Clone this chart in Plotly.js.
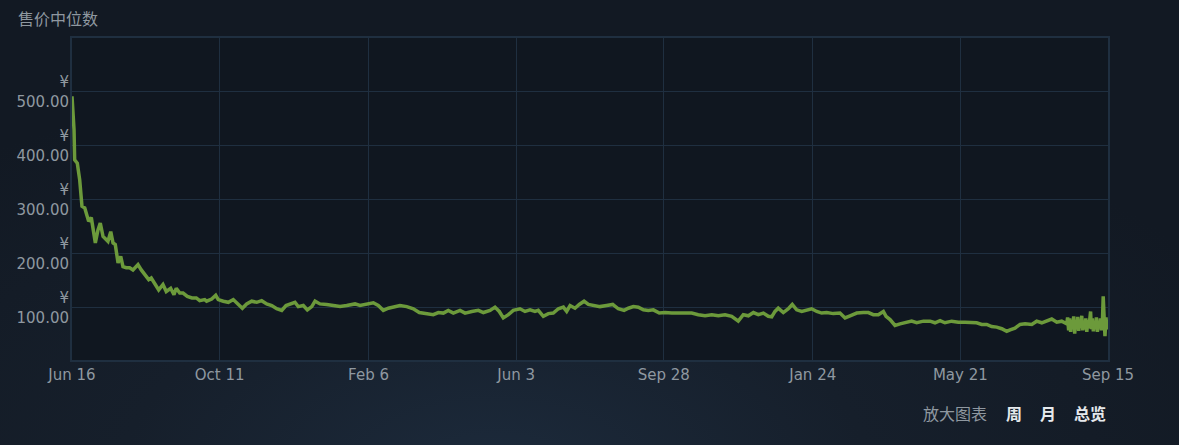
<!DOCTYPE html>
<html>
<head>
<meta charset="utf-8">
<script src="https://cdn.plot.ly/plotly-3.0.1.min.js"></script>
<style>
html,body{margin:0;padding:0;width:1179px;height:445px;overflow:hidden;
background:radial-gradient(ellipse 70% 90% at 42% 105%, #1c2a3b 0%, #161f2b 45%, #121923 100%);}
#chart{width:1179px;height:445px;}
</style>
</head>
<body>
<div id="chart"></div>
<script>
// days since Jun 16
const days = [0,1.6,2.1,4.2,6.1,7.9,10.1,11.3,13.2,15.3,16.6,18.5,20.6,22.4,24.6,26.4,28.5,30.7,32.5,34.3,36.5,38.6,40.4,43,45.7,48.3,52.3,54.9,58.1,60.8,62.8,66,68.7,72.1,74.7,78.2,80.8,82.6,85.4,88,91.4,95.1,98.5,101.2,105.2,
106.7,110.7,113.9,115.9,119.9,123.9,127.8,131.8,135,138.4,142.4,146.4,150.3,154.3,158.3,162.2,166.2,169.6,172.8,176.7,179.3,183.3,186.5,190,192.6,196.5,201.8,207.1,212.4,217.7,224.3,228.2,233,238.8,242.7,246.7,250.7,254.6,259.9,265.3,270.5,275.2,
282.4,286.3,290.3,294.3,298.2,302.2,307.5,311.5,316.8,322,326,331.3,335.2,338.6,341.8,345.8,349.7,355,359,363,366.9,369.5,373.5,377.5,381.4,385.4,389.4,392,394.7,398.6,402,405.8,409.2,413.1,418.4,423.7,428.5,432.9,
437.5,440.9,444.9,448.8,452.8,456.7,460.7,465.4,469.9,475.3,480.5,485.8,491.1,496.3,501.7,507,512.2,517.5,522.8,528,532,536,540,543.9,547.9,551.8,554.5,557.1,559.7,563.7,567.7,570.8,574.3,578.3,582.2,586.2,590.2,594.1,598.1,603.3,608.6,612.6,616.6,621.9,
627.1,631.1,635,639,643,645.1,648.3,652.2,656.2,661.5,665.4,669.4,674.7,680,683.9,687.9,691.8,697.1,702.4,707.7,713,716.9,720.9,724.9,728.8,732.8,736.8,740.7,743.4,747.3,751.3,755.3,760.6,764.5,768.5,772.5,776.4,780.4,784.3,788.3,
789,789.8,790.6,791.4,792.2,793,793.8,794.6,795.4,796.2,797,797.8,798.6,799.4,800.2,801,801.8,802.6,803.4,804.2,805,805.8,806.6,807.2,807.8,808.6,809.4,810.2,811,811.8,812.6,813.4,814.2,815,815.8,816.6,817.2,817.8,818.6,819.4,820.2,821];
const prices = [492,430,374,368,337,288,285,276,260,267,244,220,244,257,232,228,223,241,220,217,183,195,176,174,174,170,180,170,161,152,155,143,133,143,130,136,124,136,127,127,121,118,118,113,115,
112,116,123,115,112,110,115,107,99,107,112,110,113,107,104,98,95,104,107,110,102,104,96,102,112,107,106,104,102,104,107,104,107,109,104,95,99,101,104,102,98,91,
89,87,91,90,95,90,95,90,93,95,91,95,101,93,81,87,95,98,93,96,93,95,84,89,90,98,101,93,104,99,106,112,106,104,102,104,106,98,
95,99,102,101,96,95,96,90,91,90,90,89,90,87,85,87,85,87,84,75,87,85,91,87,90,84,83,93,99,91,98,106,96,93,95,98,93,90,91,89,90,81,85,90,
91,91,87,87,93,84,78,67,70,72,75,72,75,75,72,76,72,75,73,73,72,72,69,69,65,64,61,56,59,62,69,70,69,75,72,75,79,73,75,70,
82,58,80,55,77,62,84,52,76,60,83,57,78,63,85,58,74,60,80,55,77,62,78,93,60,80,56,75,60,82,55,74,62,80,58,76,121,60,47,82,60,72];

const tickDays = [0,117,235,352,469,587,704,821];
const tickLabels = ["Jun 16","Oct 11","Feb 6","Jun 3","Sep 28","Jan 24","May 21","Sep 15"];
const yTicks = [100,200,300,400,500];
const yLabels = ["¥<br>100.00","¥<br>200.00","¥<br>300.00","¥<br>400.00","¥<br>500.00"];

const FONT = "DejaVu Sans, Noto Sans CJK SC, sans-serif";
const CJK = "Noto Sans CJK SC, sans-serif";
const grid = "#1f2f40";

Plotly.newPlot("chart", [{
  x: days, y: prices, type: "scatter", mode: "lines",
  line: {color: "#6c9a3b", width: 3.5, shape: "linear"},
  hoverinfo: "none"
}], {
  width: 1179, height: 445,
  margin: {l: 72, r: 71, t: 38, b: 85},
  paper_bgcolor: "rgba(0,0,0,0)",
  plot_bgcolor: "#101720",
  showlegend: false,
  font: {family: FONT, color: "#8f98a0", size: 14},
  xaxis: {
    range: [0, 821], tickvals: tickDays, ticktext: tickLabels,
    showgrid: true, gridcolor: grid, gridwidth: 1,
    showline: true, linecolor: grid, linewidth: 2, mirror: true,
    zeroline: false, ticks: "", ticklen: 0, tickfont: {family: FONT, size: 15, color: "#8f98a0"}
  },
  yaxis: {
    range: [3, 600], tickvals: yTicks, ticktext: yLabels,
    showgrid: true, gridcolor: grid, gridwidth: 1,
    showline: true, linecolor: grid, linewidth: 2, mirror: true,
    zeroline: false, ticks: "", ticklen: 0, ticklabelstandoff: -2,
    tickfont: {family: FONT, size: 15, color: "#8f98a0"}
  },
  annotations: [
    {text: "售价中位数", xref: "paper", yref: "paper", x: -0.0541, y: 1.062, xanchor: "left", yanchor: "middle",
     showarrow: false, font: {family: CJK, size: 16, color: "#8f98a0"}},
    {text: "放大图表", xref: "paper", yref: "paper", x: 0.8195, y: -0.1646, xanchor: "left", yanchor: "middle",
     showarrow: false, font: {family: CJK, size: 16, color: "#8f98a0"}},
    {text: "<b>周</b>", xref: "paper", yref: "paper", x: 0.8996, y: -0.1646, xanchor: "left", yanchor: "middle",
     showarrow: false, font: {family: CJK, size: 16, color: "#e6e9ec"}},
    {text: "<b>月</b>", xref: "paper", yref: "paper", x: 0.9325, y: -0.1646, xanchor: "left", yanchor: "middle",
     showarrow: false, font: {family: CJK, size: 16, color: "#e6e9ec"}},
    {text: "<b>总览</b>", xref: "paper", yref: "paper", x: 1.0, y: -0.1646, xanchor: "right", yanchor: "middle",
     showarrow: false, font: {family: CJK, size: 16, color: "#e6e9ec"}}
  ]
}, {staticPlot: true, displayModeBar: false});
</script>
</body>
</html>
